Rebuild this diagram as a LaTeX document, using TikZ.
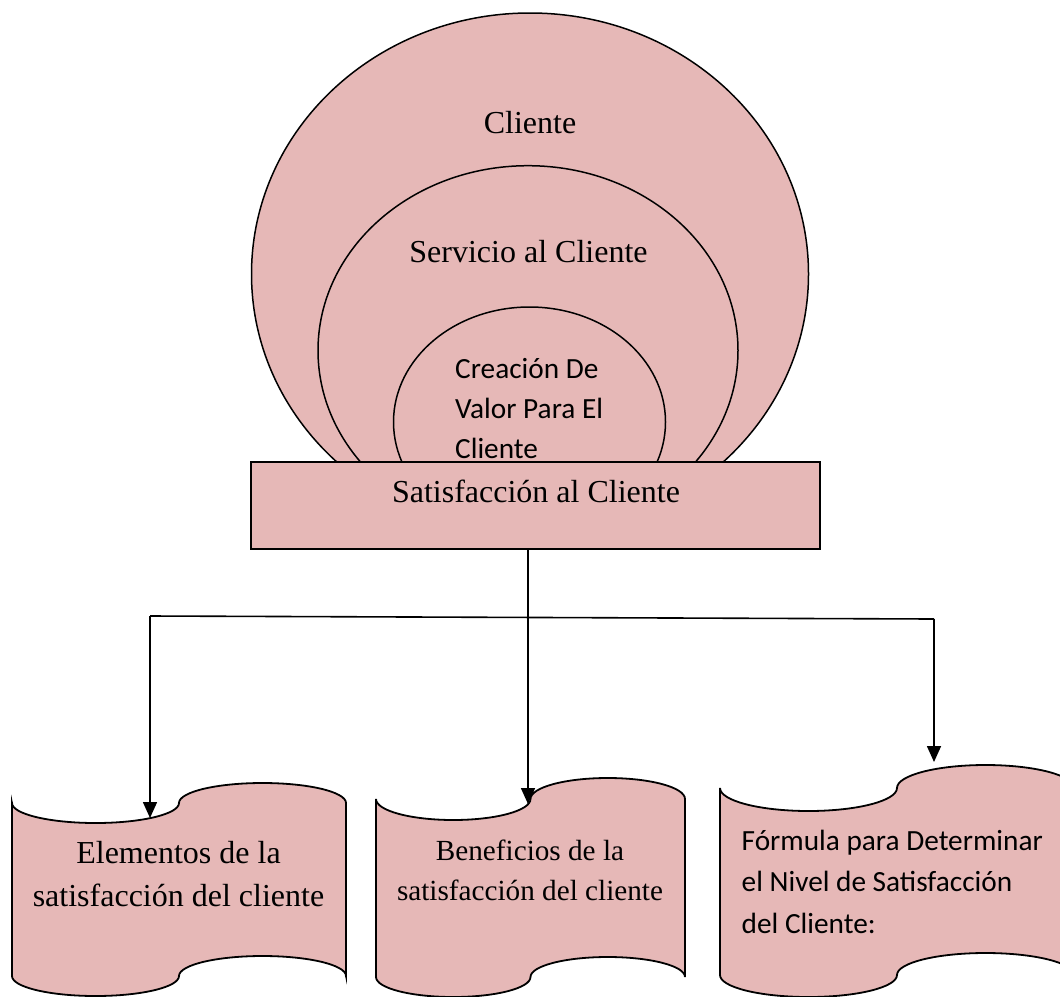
\documentclass[tikz,border=0pt]{standalone}
\usepackage{fontspec}
\setmainfont{Liberation Serif}
\newfontfamily\carlito{Carlito}
\usetikzlibrary{shapes.geometric,arrows.meta}
\definecolor{pinkfill}{HTML}{E6B8B7}
\begin{document}
\begin{tikzpicture}[x=1pt,y=-1pt,
  ring/.style={ellipse,draw,line width=1.5pt,fill=pinkfill,inner sep=0pt,outer sep=0pt},
  ser/.style={font=\fontsize{32}{40}\selectfont,anchor=base,inner sep=0pt},
  sersm/.style={font=\fontsize{29.2}{38}\selectfont,anchor=base,inner sep=0pt},
  cal/.style={font=\carlito\fontsize{29.3}{40}\selectfont,anchor=base west,inner sep=0pt},
  conn/.style={line width=1.6pt},
  arr/.style={conn,-{Triangle[length=16pt,width=14pt]}},
  tape/.style={draw,line width=1.8pt,fill=pinkfill}]
\useasboundingbox (0,0) rectangle (1060,996);
\clip (0,0) rectangle (1060,996);

% concentric rings
\node[ring,minimum width=557pt,minimum height=522pt] (outer) at (530,274) {};
\node[ring,minimum width=420pt,minimum height=369.6pt] (middle) at (528,350.5) {};
\node[ring,minimum width=272pt,minimum height=230pt] (inner) at (529.5,422) {};

\node[ser] (tcliente) at (530,133) {Cliente};
\node[ser] (tservicio) at (528.5,262) {Servicio al Cliente};
\node[cal] (tcrea1) at (455,378) {Creación De};
\node[cal] (tcrea2) at (455,418) {Valor Para El};
\node[cal] (tcrea3) at (455,458) {Cliente};

% satisfaction box
\node[draw,line width=1.8pt,fill=pinkfill,minimum width=569pt,minimum height=87pt,inner sep=0pt,outer sep=0pt] (sat) at (535.5,505.5) {};
\node[ser] (tsat) at (536,502) {Satisfacción al Cliente};

% punched tape shapes
\path[tape] (12,803)
  arc[start angle=180,end angle=0,x radius=83.5,y radius=20]
  arc[start angle=180,end angle=360,x radius=83.5,y radius=20]
  -- (346,976)
  arc[start angle=360,end angle=180,x radius=83.5,y radius=20]
  arc[start angle=0,end angle=180,x radius=83.5,y radius=20]
  -- cycle;
\path[tape] (376,799)
  arc[start angle=180,end angle=0,x radius=77.25,y radius=21]
  arc[start angle=180,end angle=360,x radius=77.25,y radius=21]
  -- (685,977)
  arc[start angle=360,end angle=180,x radius=77.25,y radius=20]
  arc[start angle=0,end angle=180,x radius=77.25,y radius=20]
  -- cycle;
\path[tape] (720,788)
  arc[start angle=180,end angle=0,x radius=88.5,y radius=23]
  arc[start angle=180,end angle=360,x radius=88.5,y radius=23]
  -- (1074,975)
  arc[start angle=360,end angle=180,x radius=88.5,y radius=22]
  arc[start angle=0,end angle=180,x radius=88.5,y radius=22]
  -- cycle;

\node[ser] (telem1) at (178.5,863) {Elementos de la};
\node[ser] (telem2) at (178.5,906.5) {satisfacción del cliente};
\node[sersm] (tbene1) at (530,860) {Beneficios de la};
\node[sersm] (tbene2) at (530,900) {satisfacción del cliente};
\node[cal] (tform1) at (741.5,850) {Fórmula para Determinar};
\node[cal] (tform2) at (741.5,891.5) {el Nivel de Satisfacción};
\node[cal] (tform3) at (741.5,933) {del Cliente:};

% connectors
\coordinate (j) at (528,618);
\coordinate (hl) at (150,616);
\coordinate (hr) at (934,619);
\coordinate (a1) at (150,818);
\coordinate (a2) at (528,804);
\coordinate (a3) at (934,762);
\draw[conn] (j |- sat.south) -- (j);
\draw[conn] (hl) -- (hr);
\draw[arr] (hl) -- (a1);
\draw[arr] (j) -- (a2);
\draw[arr] (hr) -- (a3);
\end{tikzpicture}
\end{document}
